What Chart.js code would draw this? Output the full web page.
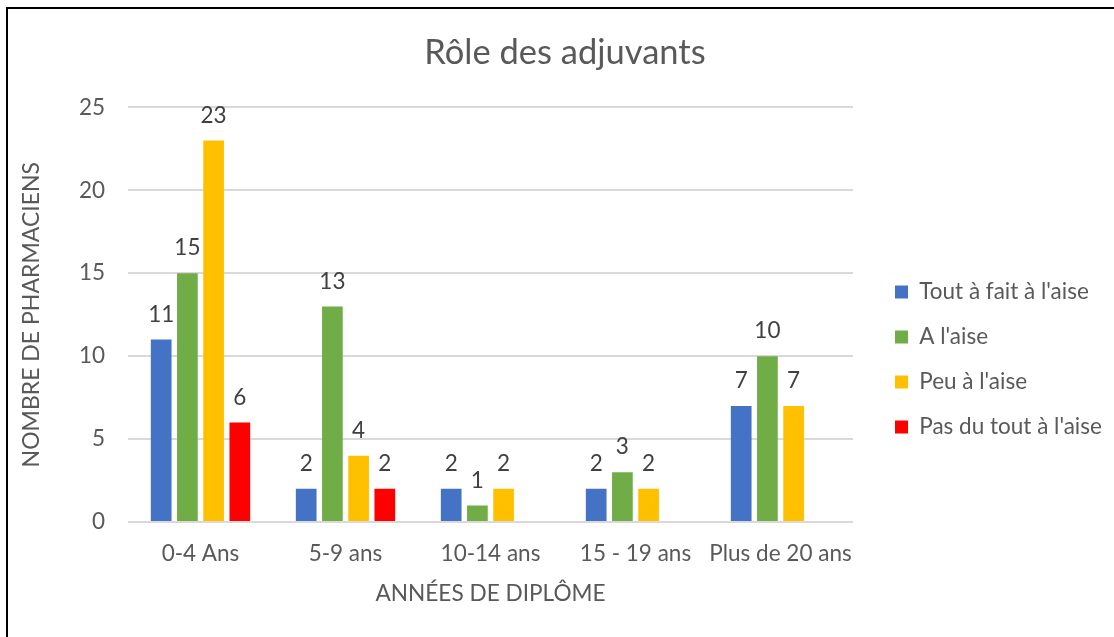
<!DOCTYPE html>
<html><head><meta charset="utf-8">
<script src="https://cdn.jsdelivr.net/npm/chart.js@4.4.1/dist/chart.umd.min.js"></script>
<style>
html,body{margin:0;padding:0;background:#fff;}
#wrap{position:relative;width:1114px;height:637px;overflow:hidden;background:#fff;}
#frame{position:absolute;left:6px;top:7px;right:-10px;bottom:-10px;border-top:2px solid #000;border-left:2px solid #000;pointer-events:none;}
</style></head><body>
<div id="wrap"><canvas id="c" width="1114" height="637"></canvas><div id="frame"></div></div>
<script>
const chartTitle = 'Rôle des adjuvants';
const xTitle = 'ANNÉES DE DIPLÔME';
const yTitle = 'NOMBRE DE PHARMACIENS';
const categories = ['0-4 Ans', '5-9 ans', '10-14 ans', '15 - 19 ans', 'Plus de 20 ans'];
const seriesNames = ["Tout à fait à l'aise", "A l'aise", "Peu à l'aise", "Pas du tout à l'aise"];
const toutAFait = [11, 2, 2, 2, 7];
const aLaise = [15, 13, 1, 3, 10];
const peuALaise = [23, 4, 2, 2, 7];
const pasDuTout = [6, 2, null, null, null];
const yMin = 0, yMax = 25, yStep = 5;

const colors = ['#4472C4', '#70AD47', '#FFC000', '#FF0000'];
const FONT = 'Lato';
const TXT = '#595959';
const LBL = '#404040';
const tickFont = 22.5;
const legendFont = 22.5;
const legendPad = 22.5;
const legendBox = 13;

const valueLabels = {
  id: 'valueLabels',
  afterDatasetsDraw(chart) {
    const ctx = chart.ctx;
    ctx.save();
    ctx.font = tickFont + 'px ' + FONT;
    ctx.fillStyle = LBL;
    ctx.textAlign = 'center';
    ctx.textBaseline = 'middle';
    chart.data.datasets.forEach((ds, i) => {
      const meta = chart.getDatasetMeta(i);
      meta.data.forEach((el, j) => {
        const v = ds.data[j];
        if (v === null || v === undefined) return;
        ctx.fillText(String(v), el.x, el.y - 25);
      });
    });
    ctx.restore();
  }
};

function build() {
  const mctx = document.createElement('canvas').getContext('2d');
  mctx.font = legendFont + 'px ' + FONT;
  const maxW = Math.max(...seriesNames.map(s => mctx.measureText(s).width));
  const legendWidth = legendPad + legendBox + legendFont / 2 + maxW + 10;
  const legendLeft = 872.5;
  const padRight = Math.max(0, 1114 - legendLeft - legendWidth);

  const series = [toutAFait, aLaise, peuALaise, pasDuTout];
  new Chart(document.getElementById('c'), {
    type: 'bar',
    data: {
      labels: categories,
      datasets: series.map((d, i) => ({
        label: seriesNames[i],
        data: d,
        backgroundColor: colors[i],
        borderWidth: 0,
        yAxisID: 'y',
        categoryPercentage: 0.723,
        barPercentage: 0.79
      }))
    },
    options: {
      responsive: false,
      animation: false,
      devicePixelRatio: 1,
      layout: { padding: { left: 18, right: padRight, top: 0, bottom: 28 } },
      plugins: {
        title: {
          display: true, text: chartTitle, color: TXT,
          font: { family: FONT, size: 34.5, weight: 'normal' },
          padding: { top: 32, bottom: 34 }
        },
        legend: {
          display: true, position: 'right', align: 'center', maxWidth: 400,
          title: { display: true, text: '', font: { size: 10 }, padding: { top: 98, bottom: 0 } },
          labels: {
            color: TXT, boxWidth: legendBox, boxHeight: legendBox, padding: legendPad,
            font: { family: FONT, size: legendFont }
          }
        },
        tooltip: { enabled: false }
      },
      scales: {
        y: {
          type: 'linear', position: 'left', min: yMin, max: yMax,
          ticks: { stepSize: yStep, color: TXT, padding: 23, font: { family: FONT, size: tickFont } },
          grid: { color: '#D9D9D9', lineWidth: 2, drawTicks: false },
          border: { display: false },
          title: { display: true, text: yTitle, color: TXT, padding: 0, font: { family: FONT, size: 23 } },
          afterFit(s) { s.width = 110; }
        },
        x: {
          type: 'category',
          ticks: { color: TXT, padding: 18, autoSkip: false, maxRotation: 0, minRotation: 0, font: { family: FONT, size: tickFont } },
          grid: { display: false, drawTicks: false },
          border: { display: false },
          title: { display: true, text: xTitle, color: TXT, padding: { top: 0, bottom: 2 }, font: { family: FONT, size: 22.6 } },
          afterFit(s) { s.height = 87; }
        },
        yPad: {
          type: 'linear', position: 'right', display: true,
          grid: { display: false, drawTicks: false },
          border: { display: false },
          ticks: { display: false },
          afterFit(s) { s.width = 19.5; }
        }
      }
    },
    plugins: [valueLabels]
  });
}

Promise.all([
  document.fonts.load('22.5px Lato'),
  document.fonts.load('23px Lato'),
  document.fonts.load('34.5px Lato')
]).catch(() => {}).then(build);
</script>
</body></html>
